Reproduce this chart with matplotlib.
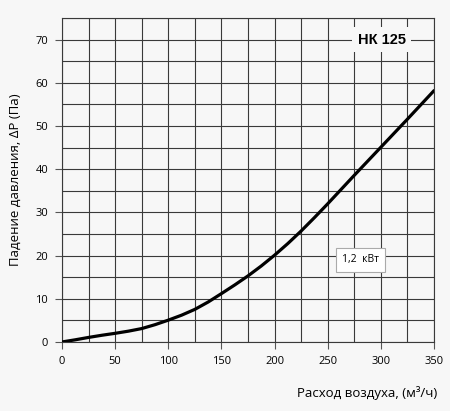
import matplotlib.pyplot as plt
from matplotlib.ticker import MultipleLocator

# расход воздуха (м3/ч) и падение давления (Па)
flow = [0, 12.5, 25, 37.5, 50, 62.5, 75, 87.5, 100, 112.5, 125, 137.5, 150, 162.5, 175,
        187.5, 200, 212.5, 225, 237.5, 250, 262.5, 275, 300, 325, 350]
dp = [0, 0.5, 1.05, 1.55, 2.0, 2.5, 3.1, 4.0, 5.05, 6.2, 7.55, 9.25, 11.2, 13.2, 15.3,
      17.6, 20.1, 22.8, 25.7, 28.8, 32.0, 35.3, 38.6, 45.1, 51.6, 58.2]

model = 'НК 125'
power = '1,2  кВт'

plt.rcParams['font.family'] = ['Open Sans', 'DejaVu Sans']
bg = '#f7f7f7'

fig = plt.figure(figsize=(4.5, 4.11), dpi=100, facecolor=bg)
ax = fig.add_axes([0.1378, 0.168, 0.8267, 0.788])
ax.set_facecolor(bg)

ax.plot(flow, dp, color='black', lw=2.3, zorder=3,
        solid_capstyle='round', solid_joinstyle='round')

ax.set_xlim(0, 350)
ax.set_ylim(0, 75)
ax.xaxis.set_major_locator(MultipleLocator(50))
ax.yaxis.set_major_locator(MultipleLocator(10))
ax.xaxis.set_minor_locator(MultipleLocator(25))
ax.yaxis.set_minor_locator(MultipleLocator(5))
ax.grid(which='both', color='#3a3a3a', lw=0.8)
ax.set_axisbelow(True)
for s in ax.spines.values():
    s.set_color('#3a3a3a')
    s.set_linewidth(0.8)
ax.tick_params(which='major', length=5, width=0.8, color='#555555', labelsize=8, pad=5)
ax.tick_params(which='minor', length=0)

ax.set_ylabel('Падение давления, ΔР (Па)', fontsize=9.5, labelpad=10)
ax.set_xlabel('Расход воздуха, (м³/ч)', fontsize=9.5)
ax.xaxis.set_label_coords(1.01, -0.135)
ax.xaxis.label.set_horizontalalignment('right')

ax.text(301, 70, model, fontsize=10.5, fontweight='bold', family=['Liberation Sans'],
        ha='center', va='center',
        bbox=dict(facecolor=bg, edgecolor='none', pad=4), zorder=4)
ax.text(281, 19, power, fontsize=7.5, ha='center', va='center',
        bbox=dict(facecolor='white', edgecolor='#aaaaaa', lw=0.8, pad=4.5), zorder=4)

fig.savefig('out.png', dpi=100, facecolor=bg)
